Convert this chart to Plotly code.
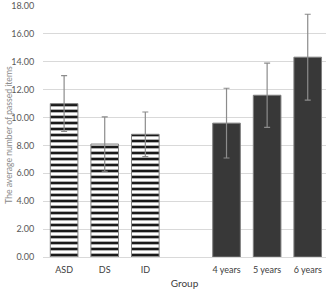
import plotly.graph_objects as go

categories = ["ASD", "DS", "ID", " ", "4 years", "5 years", "6 years"]
clinical_groups = ["ASD", "DS", "ID"]
clinical_means = [11.0, 8.1, 8.8]
clinical_sd = [2.0, 1.95, 1.6]
age_groups = ["4 years", "5 years", "6 years"]
age_means = [9.6, 11.6, 14.33]
age_sd = [2.5, 2.3, 3.08]
y_ticks = [0, 2, 4, 6, 8, 10, 12, 14, 16, 18]

font_family = "Lato, Open Sans, sans-serif"

fig = go.Figure()
fig.add_trace(go.Bar(
    x=clinical_groups, y=clinical_means,
    width=0.68,
    marker=dict(color="white",
                line=dict(color="#7f7f7f", width=1),
                pattern=dict(shape="-", fgcolor="#1a1a1a", bgcolor="white",
                             size=6, solidity=0.45, fgopacity=1)),
    error_y=dict(type="data", array=clinical_sd, color="#8c8c8c",
                 thickness=1.2, width=3),
    showlegend=False,
))
fig.add_trace(go.Bar(
    x=age_groups, y=age_means,
    width=0.68,
    marker=dict(color="#383838", line=dict(color="#7f7f7f", width=1)),
    error_y=dict(type="data", array=age_sd, color="#8c8c8c",
                 thickness=1.2, width=3),
    showlegend=False,
))

fig.update_layout(
    width=326, height=292,
    margin=dict(l=43, r=0, t=6, b=35),
    paper_bgcolor="white", plot_bgcolor="white",
    barmode="overlay",
    font=dict(family=font_family, size=9, color="#595959"),
    xaxis=dict(categoryorder="array", categoryarray=categories,
               type="category", range=[-0.52, 6.45], automargin=False,
               showgrid=False, zeroline=False, showline=False,
               ticks="outside", ticklen=4, tickcolor="rgba(0,0,0,0)",
               tickfont=dict(size=9, color="#404040"),
               title=dict(text="Group", font=dict(size=10, color="#404040"),
                          standoff=6)),
    yaxis=dict(range=[0, 18], tickvals=y_ticks, tickformat=".2f",
               automargin=False,
               showgrid=True, gridcolor="#d9d9d9", gridwidth=1,
               zeroline=True, zerolinecolor="#d9d9d9", zerolinewidth=1,
               showline=False, ticks="outside", ticklen=6,
               tickcolor="rgba(0,0,0,0)",
               tickfont=dict(size=9, color="#595959")),
    annotations=[dict(
        text="The average number of passed items",
        xref="paper", yref="paper", x=-0.118, y=0.485,
        xanchor="center", yanchor="middle", textangle=-90,
        showarrow=False, font=dict(size=8.6, color="#8c8c8c"),
    )],
)

fig.write_html(
    "out.html",
    config={"displayModeBar": False},
    post_script="document.body.style.margin='0';document.body.style.padding='0';",
)
